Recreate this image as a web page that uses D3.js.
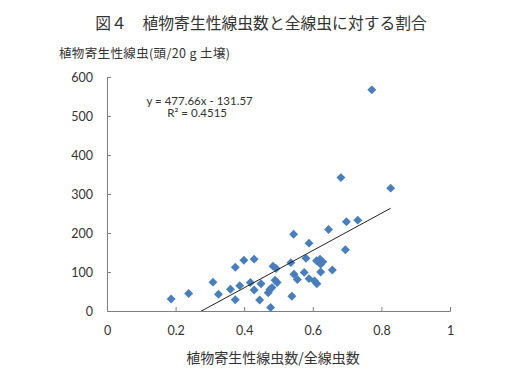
<!DOCTYPE html>
<html>
<head>
<meta charset="utf-8">
<script src="https://cdn.jsdelivr.net/npm/d3@7"></script>
<style>
  body { margin: 0; background: #fff; }
  .jp { font-family: "Noto Sans CJK JP", sans-serif; fill: #333; }
  .num { font-family: Lato, "Liberation Sans", sans-serif; fill: #333; }
</style>
</head>
<body>
<div id="chart"></div>
<script>
// ratio of plant-parasitic nematodes to all nematodes
const ratio = [0.187, 0.238, 0.309, 0.325, 0.360, 0.374, 0.374, 0.387, 0.399, 0.418,
  0.429, 0.429, 0.445, 0.449, 0.477, 0.470, 0.475, 0.481, 0.484, 0.493,
  0.490, 0.496, 0.536, 0.544, 0.539, 0.545, 0.555, 0.575, 0.580, 0.589,
  0.589, 0.605, 0.612, 0.611, 0.621, 0.629, 0.623, 0.623, 0.657, 0.646,
  0.682, 0.695, 0.698, 0.731, 0.772, 0.827];
// plant-parasitic nematodes per 20 g soil
const count = [31, 45, 74, 43, 56, 112, 29, 65, 130, 73,
  133, 54, 28, 70, 9, 47, 55, 60, 115, 109,
  79, 73, 124, 197, 38, 94, 81, 99, 135, 174,
  83, 77, 70, 129, 133, 126, 120, 100, 105, 209,
  342, 157, 229, 233, 567, 315];

const xTicks = [0, 0.2, 0.4, 0.6, 0.8, 1];
const yTicks = [0, 100, 200, 300, 400, 500, 600];
const trend = { slope: 477.66, intercept: -131.57 };

const W = 530, H = 372;
const margin = { top: 77, right: 80, bottom: 61, left: 107 };
const width = W - margin.left - margin.right;
const height = H - margin.top - margin.bottom;

const svg = d3.select('#chart').append('svg')
  .attr('width', W)
  .attr('height', H);

svg.append('text')
  .attr('class', 'jp')
  .attr('x', 261)
  .attr('y', 29)
  .attr('text-anchor', 'middle')
  .style('font-size', '15.8px')
  .text('図４　植物寄生性線虫数と全線虫に対する割合');

svg.append('text')
  .attr('class', 'jp')
  .attr('x', 59)
  .attr('y', 58)
  .attr('textLength', 171)
  .attr('lengthAdjust', 'spacing')
  .style('font-size', '12.5px')
  .text('植物寄生性線虫(頭/20 g 土壌)');

const g = svg.append('g')
  .attr('transform', 'translate(' + margin.left + ',' + margin.top + ')');

const x = d3.scaleLinear().domain([0, 1]).range([0, width]);
const y = d3.scaleLinear().domain([0, 600]).range([height, 0]);

// axes with inward ticks
const xAxis = d3.axisBottom(x).tickValues(xTicks).tickSize(-4).tickPadding(15)
  .tickFormat(d3.format('~g'));
const yAxis = d3.axisLeft(y).tickValues(yTicks).tickSize(-4).tickPadding(14);

const gx = g.append('g')
  .attr('transform', 'translate(0,' + height + ')')
  .call(xAxis);
const gy = g.append('g').call(yAxis);

[gx, gy].forEach(function (ax) {
  ax.select('.domain').attr('stroke', '#7f7f7f');
  ax.selectAll('.tick line').attr('stroke', '#7f7f7f');
  ax.selectAll('text')
    .attr('class', 'num')
    .attr('fill', '#333')
    .style('font-size', '12.5px');
});

svg.append('text')
  .attr('class', 'jp')
  .attr('x', 273)
  .attr('y', 363)
  .attr('text-anchor', 'middle')
  .style('font-size', '14px')
  .text('植物寄生性線虫数/全線虫数');

// clip for trend line
g.append('clipPath').attr('id', 'plot-clip')
  .append('rect').attr('width', width).attr('height', height);

const pts = ratio.map(function (d, i) { return [d, count[i]]; });

g.selectAll('.pt')
  .data(pts)
  .enter().append('path')
  .attr('class', 'pt')
  .attr('d', d3.symbol(d3.symbolSquare, 40))
  .attr('transform', function (d) {
    return 'translate(' + x(d[0]) + ',' + y(d[1]) + ') rotate(45)';
  })
  .attr('fill', '#4a7ebb');

const xr = d3.extent(ratio);
const line = d3.line()
  .x(function (d) { return x(d); })
  .y(function (d) { return y(trend.slope * d + trend.intercept); });

g.append('path')
  .datum(xr)
  .attr('d', line)
  .attr('clip-path', 'url(#plot-clip)')
  .attr('fill', 'none')
  .attr('stroke', '#222')
  .attr('stroke-width', 1);

// equation label
const eq = g.append('text')
  .attr('class', 'num')
  .attr('text-anchor', 'middle')
  .style('font-size', '11.5px');
eq.append('tspan')
  .attr('x', x(0.27))
  .attr('y', y(528))
  .text('y = ' + trend.slope + 'x - ' + Math.abs(trend.intercept));
eq.append('tspan')
  .attr('x', x(0.263))
  .attr('y', y(497))
  .text('R² = 0.4515');
</script>
</body>
</html>
